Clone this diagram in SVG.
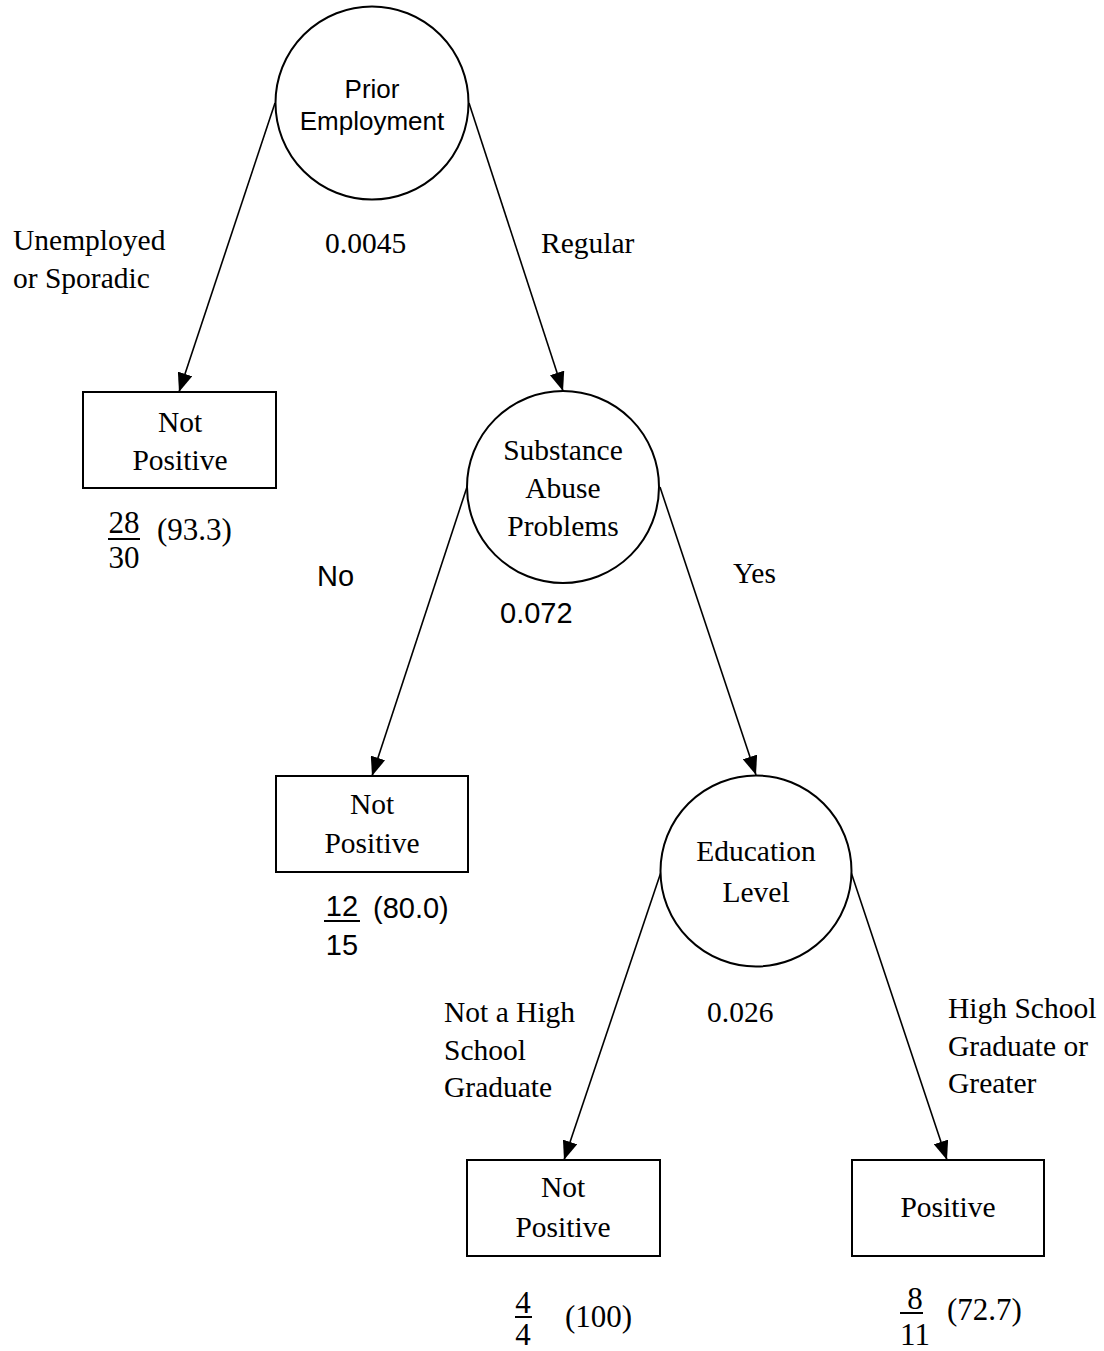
<svg xmlns="http://www.w3.org/2000/svg" width="1104" height="1351" viewBox="0 0 1104 1351">
<style>
.ser{font-family:"Liberation Serif","Times New Roman",serif;font-size:29.5px;fill:#000}
.frac{font-family:"Liberation Serif","Times New Roman",serif;font-size:31px;fill:#000}
.sans{font-family:"Liberation Sans",Arial,sans-serif;font-size:29px;fill:#000}
.node{fill:#fff;stroke:#000;stroke-width:2}
.edge{stroke:#000;stroke-width:1.6;fill:none}
.bar{stroke:#000;stroke-width:2}
.mid{text-anchor:middle}
</style>
<defs>
<marker id="arr" markerUnits="userSpaceOnUse" markerWidth="19" markerHeight="15" refX="19" refY="7.5" orient="auto">
<path d="M0,0 L19,7.5 L0,15 z" fill="#000"/>
</marker>
</defs>
<rect width="1104" height="1351" fill="#fff"/>
<g id="connectors">
<line class="edge" x1="275" y1="103" x2="179" y2="392" marker-end="url(#arr)"/>
<line class="edge" x1="469" y1="103" x2="563" y2="391" marker-end="url(#arr)"/>
<line class="edge" x1="467" y1="487" x2="372" y2="776" marker-end="url(#arr)"/>
<line class="edge" x1="660" y1="487" x2="756" y2="775" marker-end="url(#arr)"/>
<line class="edge" x1="661" y1="872" x2="564" y2="1160" marker-end="url(#arr)"/>
<line class="edge" x1="851" y1="872" x2="947" y2="1160" marker-end="url(#arr)"/>
</g>
<g id="edge-labels">
<text class="ser" x="13" y="250">Unemployed</text>
<text class="ser" x="13" y="288">or Sporadic</text>
<text class="ser" x="325" y="253">0.0045</text>
<text class="ser" x="541" y="253">Regular</text>
<text class="sans" x="317" y="586">No</text>
<text class="sans" x="500" y="623">0.072</text>
<text class="ser" x="733" y="583">Yes</text>
<text class="ser" x="444" y="1022">Not a High</text>
<text class="ser" x="444" y="1060">School</text>
<text class="ser" x="444" y="1097">Graduate</text>
<text class="ser" x="707" y="1022">0.026</text>
<text class="ser" x="948" y="1018">High School</text>
<text class="ser" x="948" y="1056">Graduate or</text>
<text class="ser" x="948" y="1093">Greater</text>
</g>
<g id="n-prior">
<circle class="node" cx="372" cy="103" r="96.5"/>
<text class="sans mid" x="372" y="98" style="font-size:26px">Prior</text>
<text class="sans mid" x="372" y="130" style="font-size:26px">Employment</text>
</g>
<g id="n-leaf1">
<rect class="node" x="83" y="392" width="193" height="96"/>
<text class="ser mid" x="180" y="432">Not</text>
<text class="ser mid" x="180" y="470">Positive</text>
<text class="frac mid" x="124" y="533">28</text>
<line class="bar" x1="108" y1="539" x2="140" y2="539"/>
<text class="frac mid" x="124" y="568">30</text>
<text class="frac" x="157" y="540">(93.3)</text>
</g>
<g id="n-substance">
<circle class="node" cx="563" cy="487" r="96"/>
<text class="ser mid" x="563" y="460">Substance</text>
<text class="ser mid" x="563" y="498">Abuse</text>
<text class="ser mid" x="563" y="536">Problems</text>
</g>
<g id="n-leaf2">
<rect class="node" x="276" y="776" width="192" height="96"/>
<text class="ser mid" x="372" y="814">Not</text>
<text class="ser mid" x="372" y="853">Positive</text>
<text class="sans mid" x="342" y="916">12</text>
<line class="bar" x1="324" y1="921" x2="360" y2="921"/>
<text class="sans mid" x="342" y="955">15</text>
<text class="sans" x="373" y="918">(80.0)</text>
</g>
<g id="n-education">
<circle class="node" cx="756" cy="871" r="95.5"/>
<text class="ser mid" x="756" y="861">Education</text>
<text class="ser mid" x="756" y="902">Level</text>
</g>
<g id="n-leaf3">
<rect class="node" x="467" y="1160" width="193" height="96"/>
<text class="ser mid" x="563" y="1197">Not</text>
<text class="ser mid" x="563" y="1237">Positive</text>
<text class="frac mid" x="523" y="1313">4</text>
<line class="bar" x1="515" y1="1317" x2="532" y2="1317"/>
<text class="frac mid" x="523" y="1345">4</text>
<text class="frac" x="565" y="1327">(100)</text>
</g>
<g id="n-leaf4">
<rect class="node" x="852" y="1160" width="192" height="96"/>
<text class="ser mid" x="948" y="1217">Positive</text>
<text class="frac mid" x="915" y="1309">8</text>
<line class="bar" x1="900" y1="1313" x2="923" y2="1313"/>
<text class="frac mid" x="915" y="1345">11</text>
<text class="frac" x="947" y="1320">(72.7)</text>
</g>
</svg>
